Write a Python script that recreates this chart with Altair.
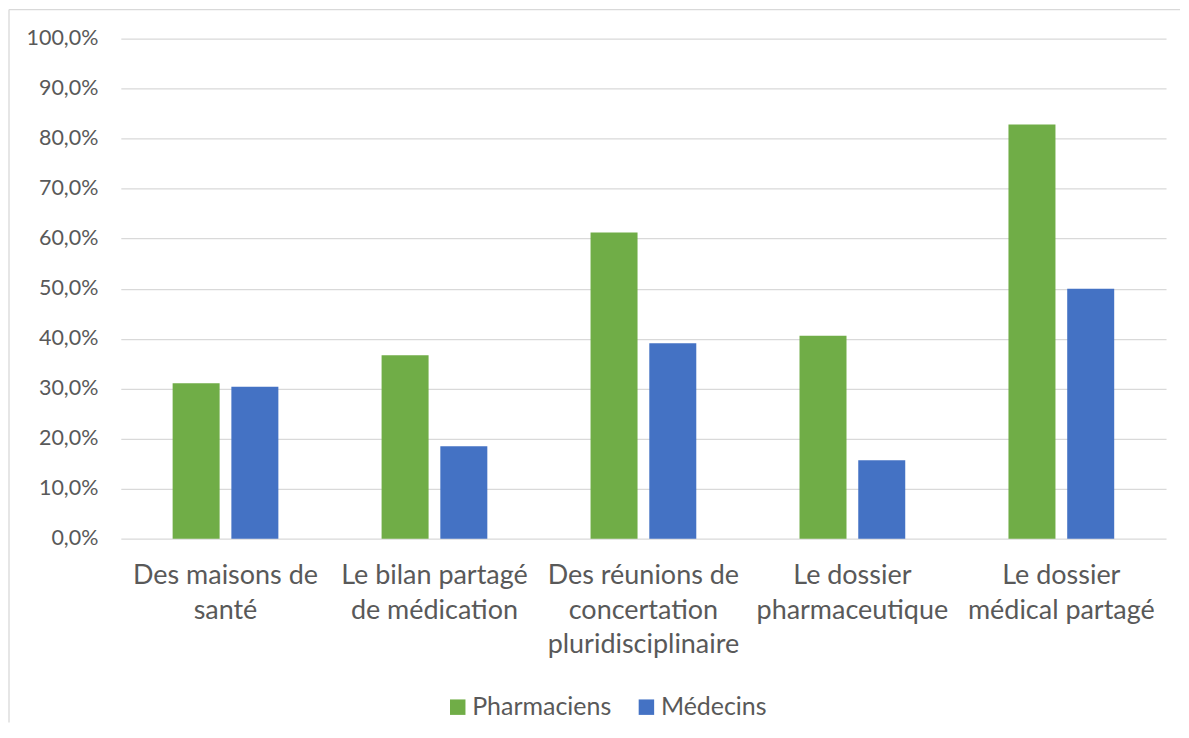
import altair as alt
import pandas as pd

categories = [
    "Des maisons de santé",
    "Le bilan partagé de médication",
    "Des réunions de concertation pluridisciplinaire",
    "Le dossier pharmaceutique",
    "Le dossier médical partagé",
]
label_lines = [
    ["Des maisons de", "santé"],
    ["Le bilan partagé", "de médication"],
    ["Des réunions de", "concertation", "pluridisciplinaire"],
    ["Le dossier", "pharmaceutique"],
    ["Le dossier", "médical partagé"],
]
series = ["Pharmaciens", "Médecins"]
pharmaciens = [0.311, 0.367, 0.612, 0.406, 0.828]
medecins = [0.304, 0.185, 0.391, 0.157, 0.500]
colors = ["#70AD47", "#4472C4"]

rows = []
for i, c in enumerate(categories):
    rows.append({"cat": c, "serie": series[0], "val": pharmaciens[i]})
    rows.append({"cat": c, "serie": series[1], "val": medecins[i]})
df = pd.DataFrame(rows)

expr = ""
for c, lines in zip(categories, label_lines):
    arr = "[" + ",".join("'" + l + "'" for l in lines) + "]"
    expr += f"datum.label == '{c}' ? {arr} : "
expr += "datum.label"

W, H = 1047, 501
FONT = "Lato"
GREY = "#595959"
LINE = "#D9D9D9"

bars = alt.Chart(df).mark_bar().encode(
    x=alt.X("cat:N", sort=categories, title=None,
            scale=alt.Scale(paddingInner=0.494, paddingOuter=0.248),
            axis=alt.Axis(labelExpr=expr, labelAngle=0, labelFontSize=27,
                          labelLineHeight=34.5, labelPadding=24, ticks=False,
                          domain=False, labelColor=GREY, labelFont=FONT,
                          labelBaseline="top", labelLimit=0, labelOverlap=False)),
    xOffset=alt.XOffset("serie:N", sort=series,
                        scale=alt.Scale(paddingInner=0.2, paddingOuter=0)),
    y=alt.Y("val:Q", title=None,
            scale=alt.Scale(domain=[0, 1]),
            axis=alt.Axis(values=[i / 10 for i in range(11)],
                          labelExpr="replace(format(datum.value, '.1%'), '.', ',')",
                          labelFontSize=21.5, labelColor=GREY, labelFont=FONT,
                          labelPadding=23, ticks=False, domain=False,
                          gridColor=LINE, gridWidth=1.3)),
    color=alt.Color("serie:N", sort=series,
                    scale=alt.Scale(domain=series, range=colors),
                    legend=alt.Legend(title=None, orient="none", direction="horizontal",
                                      legendX=325, legendY=657,
                                      symbolType="square", symbolSize=240,
                                      symbolStrokeWidth=0, labelFontSize=25,
                                      labelColor=GREY, labelFont=FONT,
                                      labelOffset=2, columnPadding=22)),
)

frame = pd.DataFrame({"a": [0]})
top_line = alt.Chart(frame).mark_rule(color=LINE, strokeWidth=1.3).encode(
    x=alt.value(-112), x2=alt.value(W + 14), y=alt.value(-29),
)
left_line = alt.Chart(frame).mark_rule(color=LINE, strokeWidth=1.3).encode(
    x=alt.value(-112), y=alt.value(-29), y2=alt.value(H + 184),
)

chart = alt.layer(top_line, left_line, bars).properties(
    width=W, height=H, padding=0
).configure(background="white").configure_view(stroke=None)

chart.save("out.html", embed_options={"renderer": "svg", "actions": False})
